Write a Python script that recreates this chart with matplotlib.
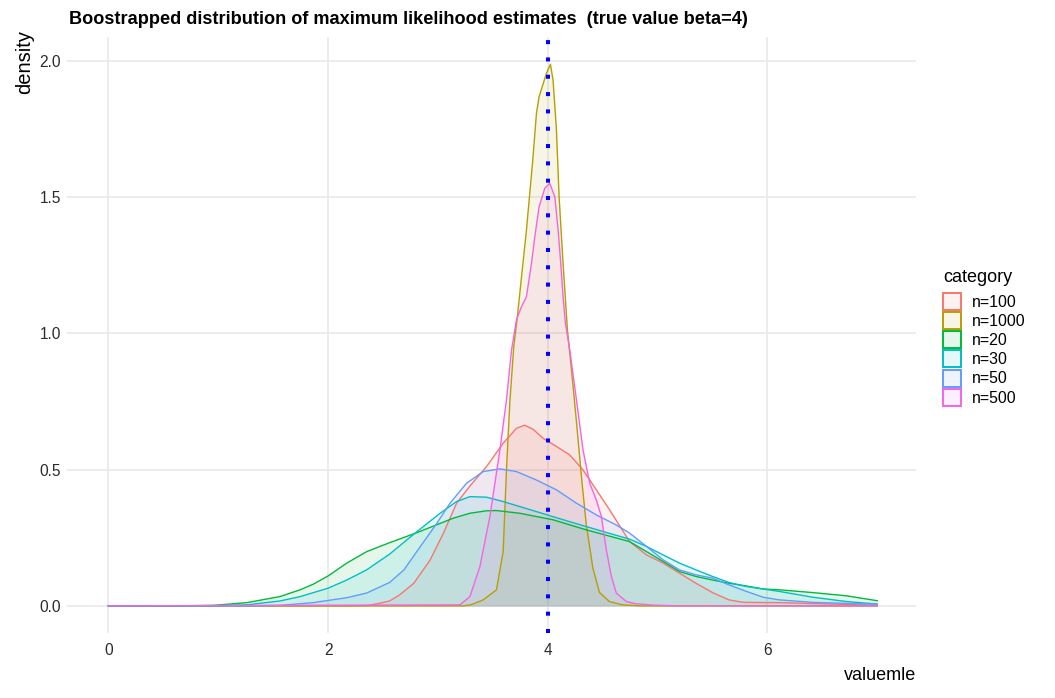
import matplotlib
matplotlib.use("Agg")
import matplotlib.pyplot as plt
from matplotlib.patches import Patch

plt.rcParams['font.family'] = ['Liberation Sans', 'DejaVu Sans']

# density curves, one pair of arrays per category
x_n100 = [0, 2.2, 2.35, 2.45, 2.56, 2.65, 2.78, 2.93, 3.05, 3.17, 3.291, 3.442, 3.594, 3.715, 3.791, 3.867,
          3.958, 4.079, 4.2, 4.321, 4.442, 4.564, 4.745, 4.9, 5.05, 5.2, 5.35, 5.5, 5.65, 5.78, 6.11, 6.56, 7.0]
y_n100 = [0, 0, 0.001, 0.008, 0.018, 0.04, 0.083, 0.169, 0.267, 0.377, 0.44, 0.511, 0.597, 0.652, 0.663, 0.648,
          0.615, 0.585, 0.554, 0.499, 0.426, 0.352, 0.236, 0.187, 0.157, 0.12, 0.083, 0.049, 0.022, 0.013, 0.012, 0.007, 0.002]

x_n1000 = [0, 3.23, 3.3, 3.412, 3.533, 3.594, 3.624, 3.655, 3.69, 3.72, 3.806, 3.861, 3.897, 3.921, 3.988, 4.024,
           4.048, 4.079, 4.103, 4.139, 4.179, 4.22, 4.26, 4.31, 4.35, 4.41, 4.47, 4.56, 4.68, 4.84, 7.0]
y_n1000 = [0, 0, 0.004, 0.022, 0.059, 0.2, 0.5, 0.75, 0.95, 1.05, 1.38, 1.625, 1.808, 1.869, 1.955, 1.988,
           1.93, 1.747, 1.502, 1.258, 1.013, 0.85, 0.68, 0.46, 0.3, 0.14, 0.05, 0.016, 0.004, 0, 0]

x_n20 = [0, 0.6, 0.958, 1.26, 1.56, 1.745, 1.867, 2.0, 2.17, 2.35, 2.56, 2.81, 3.14, 3.29, 3.44, 3.533,
         3.745, 4.048, 4.352, 4.745, 4.9, 5.05, 5.2, 5.35, 5.5, 5.65, 5.81, 5.96, 6.11, 6.41, 6.72, 7.0]
y_n20 = [0, 0, 0.002, 0.012, 0.034, 0.059, 0.08, 0.11, 0.157, 0.199, 0.232, 0.269, 0.322, 0.34, 0.349, 0.35,
         0.34, 0.316, 0.279, 0.236, 0.199, 0.163, 0.126, 0.108, 0.095, 0.083, 0.073, 0.062, 0.059, 0.049, 0.037, 0.019]

x_n30 = [0, 0.958, 1.26, 1.56, 1.745, 2.0, 2.17, 2.35, 2.56, 2.81, 3.02, 3.17, 3.291, 3.442, 3.594, 3.897,
         4.2, 4.503, 4.745, 4.9, 5.05, 5.2, 5.35, 5.5, 5.65, 5.81, 5.96, 6.11, 6.41, 6.72, 7.0]
y_n30 = [0, 0.001, 0.004, 0.018, 0.034, 0.065, 0.095, 0.132, 0.19, 0.273, 0.34, 0.383, 0.401, 0.399, 0.383, 0.346,
         0.309, 0.273, 0.245, 0.218, 0.187, 0.157, 0.132, 0.108, 0.086, 0.071, 0.062, 0.053, 0.032, 0.016, 0.007]

x_n50 = [0, 1.26, 1.56, 1.867, 2.0, 2.17, 2.35, 2.56, 2.69, 2.84, 2.99, 3.11, 3.26, 3.412, 3.564, 3.715,
         3.897, 4.079, 4.261, 4.442, 4.624, 4.745, 4.9, 5.05, 5.2, 5.35, 5.5, 5.65, 5.81, 5.96, 6.11, 6.41, 7.0]
y_n50 = [0, 0, 0.002, 0.012, 0.02, 0.03, 0.047, 0.086, 0.132, 0.218, 0.303, 0.377, 0.45, 0.493, 0.503, 0.493,
         0.462, 0.426, 0.377, 0.334, 0.297, 0.267, 0.218, 0.169, 0.132, 0.114, 0.102, 0.077, 0.053, 0.032, 0.022, 0.013, 0.006]

x_n500 = [0, 3.2, 3.291, 3.382, 3.473, 3.564, 3.624, 3.67, 3.715, 3.761, 3.806, 3.852, 3.882, 3.921, 3.973, 4.018,
          4.064, 4.094, 4.118, 4.139, 4.16, 4.2, 4.261, 4.321, 4.382, 4.442, 4.488, 4.533, 4.579, 4.624, 4.715,
          4.8, 4.96, 5.2, 7.0]
y_n500 = [0, 0.004, 0.034, 0.144, 0.328, 0.572, 0.756, 0.939, 1.05, 1.098, 1.135, 1.258, 1.355, 1.465, 1.533, 1.551,
          1.502, 1.38, 1.258, 1.135, 1.04, 0.939, 0.756, 0.572, 0.45, 0.389, 0.328, 0.206, 0.108, 0.047, 0.016,
          0.008, 0.003, 0, 0]

categories = ["n=100", "n=1000", "n=20", "n=30", "n=50", "n=500"]
colors = ["#F8766D", "#B79F00", "#00BA38", "#00BFC4", "#619CFF", "#F564E3"]
curves = [(x_n100, y_n100), (x_n1000, y_n1000), (x_n20, y_n20),
          (x_n30, y_n30), (x_n50, y_n50), (x_n500, y_n500)]
true_beta = 4

fig = plt.figure(figsize=(10.55, 6.98), dpi=100)
ax = fig.add_axes([0.0632, 0.0931, 0.8048, 0.8545])

for (xs, ys), c in zip(curves, colors):
    ax.fill_between(xs, ys, 0, color=c, alpha=0.1, lw=0)
    ax.plot(xs, ys, color=c, lw=1.0)

ax.axvline(true_beta, color="blue", lw=2.9, linestyle=(0, (1, 3.3)),
           dash_capstyle="butt", zorder=5)

ax.set_xlim(-0.38, 7.35)
ax.set_ylim(-0.0995, 2.0895)
ax.set_xticks([0, 2, 4, 6])
ax.set_yticks([0, 0.5, 1.0, 1.5, 2.0])
ax.set_yticklabels(["0.0", "0.5", "1.0", "1.5", "2.0"])
ax.grid(True, color="#EBEBEB", lw=1.3)
ax.set_axisbelow(True)
for s in ax.spines.values():
    s.set_visible(False)
ax.tick_params(length=0, labelsize=11.2, colors="#2b2b2b")
ax.tick_params(axis="x", pad=7)
ax.tick_params(axis="y", pad=4)

fig.text(69 / 1055, 1 - 20 / 698, "Boostrapped distribution of maximum likelihood estimates  (true value beta=4)",
         fontsize=13.1, fontweight="bold", ha="left", va="center")
fig.text(25 / 1055, 1 - 30 / 698, "density", rotation=90, ha="center", va="top", fontsize=14.5)
fig.text(916 / 1055, 1 - 676 / 698, "valuemle", ha="right", va="center", fontsize=13)

handles = [Patch(facecolor=(c, 0.1), edgecolor=c, lw=1.4) for c in colors]
leg = fig.legend(handles, categories, title="category", loc="upper left",
                 bbox_to_anchor=(943 / 1055, 1 - 269 / 698), frameon=False,
                 fontsize=11.4, title_fontsize=13, handlelength=1.14, handleheight=1.27,
                 labelspacing=0.14, handletextpad=0.68, borderpad=0, borderaxespad=0,
                 alignment="left")
leg._legend_box.sep = 5

fig.savefig("out.png", dpi=100)
